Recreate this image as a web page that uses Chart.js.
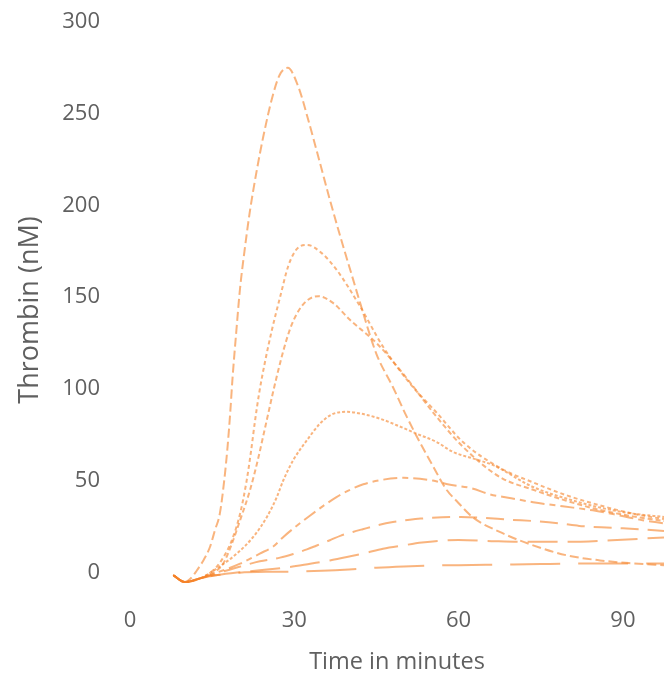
<!DOCTYPE html>
<html>
<head>
<meta charset="utf-8">
<title>Thrombin generation</title>
<script src="https://cdn.jsdelivr.net/npm/chart.js@4.4.1/dist/chart.umd.min.js"></script>
<style>
  html, body { margin: 0; padding: 0; background: #fff; }
  #wrap { width: 664px; height: 676px; }
</style>
</head>
<body>
<div id="wrap"><canvas id="thrombinChart" width="664" height="676"></canvas></div>
<script>
// axis ticks
const xTicks = [0, 30, 60, 90];
const yTicks = [0, 50, 100, 150, 200, 250, 300];

// time (minutes) and thrombin (nM) for each curve
const aTime = [7.9, 10, 11.2, 12.2, 13.4, 14.6, 15.5, 16.4, 17.2, 17.8, 18.3, 18.7, 19.4, 20.1, 20.9, 21.9, 23.2, 24.3, 25.9, 27.3, 28.8, 30.7, 32.7, 34.7, 36.5, 38.6, 40.8, 42, 45, 48, 50.5, 52.9, 55.3, 57.8, 59.6, 62.6, 67.5, 73.6, 79.7, 85.8, 91.8, 97.5];
const aVals = [-1.6, -5.3, -3, 1, 6.5, 13.8, 22.9, 32, 50, 68, 87, 105, 131, 155, 175, 197, 220, 237, 258, 271, 275, 265, 245, 223, 203, 181, 159, 147, 119, 101, 85, 71, 58, 45, 39, 30, 22, 14.7, 9.3, 6.5, 4.9, 3.8];

const bTime = [7.9, 10, 12.8, 15.2, 16.7, 18.6, 20.1, 21.3, 22.1, 22.8, 23.6, 24.6, 25.9, 27.4, 28.9, 30.4, 32.3, 35, 37.7, 42, 46.2, 51.1, 56, 60.8, 67.5, 73.6, 79.7, 85.8, 91.8, 97.5];
const bVals = [-1.6, -5.3, -3.3, 1.1, 6.5, 17.5, 32, 50, 66, 82, 98, 114, 132, 150, 167, 176, 178.5, 174, 165, 145, 123, 103, 87, 71, 57, 49, 42, 36.5, 32, 29];

const cTime = [7.9, 10, 12.8, 15, 17, 18.6, 20.1, 21.9, 23.4, 24.3, 25.2, 26.1, 27.4, 28.6, 29.8, 31.9, 34.4, 37, 40.2, 45, 49.8, 56, 60.8, 67.5, 73.6, 79.7, 85.8, 91.8, 97.5];
const cVals = [-1.6, -5.3, -3.3, -0.5, 4.7, 15.6, 28.4, 44.7, 62, 74, 86, 98, 114, 127, 137, 147, 150.5, 147, 137.5, 125, 108.5, 84.7, 68.4, 52, 45, 39, 34, 30.5, 28];

const dTime = [7.9, 10, 12.8, 15.8, 19.5, 22.5, 25, 26.8, 28, 29.8, 32.3, 34.7, 36.8, 39.6, 42, 45.6, 48.7, 52.3, 56, 59, 62.7, 66.3, 73.6, 79.7, 85.8, 91.8, 97.5];
const dVals = [-1.6, -5.3, -3.3, 2, 10.2, 19.3, 30.2, 41, 50.2, 61.1, 72, 81.1, 86, 87.5, 86.6, 83.8, 80.2, 75.6, 71, 65.6, 62, 58.4, 46.5, 40.2, 35.3, 32, 30.2];

const eTime = [7.9, 10, 12.8, 16, 20.1, 23.7, 26.2, 28, 32.9, 37.7, 40.2, 42.6, 46.2, 50, 55.3, 58, 62.4, 65.7, 69.6, 73.6, 79, 84.5, 89.4, 93.6, 97.5];
const eVals = [-1.6, -5.3, -3.3, 0, 4.7, 10.2, 14.2, 19.3, 31, 41, 45, 48, 50.5, 51.5, 50, 48, 45.8, 42.5, 40.4, 38.2, 36, 33.8, 31, 28.4, 26.7];

const fTime = [7.9, 10, 12.8, 16, 20, 23.7, 27.4, 29.8, 32.3, 34, 36.5, 38.5, 40.7, 42.5, 45.1, 48, 51.1, 53.1, 57, 60.4, 64, 69.3, 74.4, 78.6, 82, 88, 94, 97.5];
const fVals = [-1.6, -5.3, -3.3, -0.5, 3, 6, 8, 10, 12.5, 14.5, 17.5, 20, 22, 23.5, 25.6, 27.4, 28.7, 29.3, 30, 30.2, 29.8, 28.7, 27.8, 26.6, 25.3, 24.3, 23.3, 22.5];

const gTime = [7.9, 10, 12.8, 16, 20, 25, 29.2, 32.9, 36.5, 39.6, 42.6, 46.2, 49.9, 53.3, 57, 60, 66, 72, 80, 88, 97.5];
const gVals = [-1.6, -5.3, -3.3, -1.5, 0, 1.5, 2.9, 4.7, 6.5, 8.4, 10.2, 12.9, 14.7, 16.2, 17.3, 17.6, 17, 16.6, 16.6, 17.5, 19];

const hTime = [7.9, 10, 12.8, 16, 20, 25, 30, 35, 40, 45, 50, 55, 60, 65, 70, 75, 80, 85, 90, 97.5];
const hVals = [-1.6, -5.3, -3.3, -1.5, -0.2, 0.3, 0.4, 0.8, 1.5, 2.5, 3.2, 3.7, 3.9, 4.1, 4.3, 4.5, 4.7, 4.8, 4.8, 4.8];

const lineColor = 'rgba(245, 130, 40, 0.6)';
const textColor = '#606060';
const fontFamily = '"Open Sans", "Noto Sans", sans-serif';

function toPoints(times, vals) {
    return times.map((t, i) => ({ x: t, y: vals[i] }));
}

function curve(times, vals, dash) {
    return {
        data: toPoints(times, vals),
        borderColor: lineColor,
        borderWidth: 2,
        borderDash: dash,
        pointRadius: 0,
        fill: false,
        cubicInterpolationMode: 'monotone'
    };
}

const ctx = document.getElementById('thrombinChart').getContext('2d');
new Chart(ctx, {
    type: 'line',
    data: {
        datasets: [
            curve(hTime, hVals, [50, 18]),
            curve(gTime, gVals, [30, 10]),
            curve(fTime, fVals, [18, 9]),
            curve(eTime, eVals, [14, 5, 6, 5]),
            curve(dTime, dVals, [3, 2]),
            curve(cTime, cVals, [5, 3]),
            curve(bTime, bVals, [4, 3]),
            curve(aTime, aVals, [9, 4])
        ]
    },
    options: {
        responsive: false,
        animation: false,
        devicePixelRatio: 1,
        layout: { padding: { top: 22, right: 0, bottom: 0, left: 0 } },
        plugins: {
            legend: { display: false },
            tooltip: { enabled: false }
        },
        scales: {
            x: {
                type: 'linear',
                min: 0,
                max: 97.5,
                grid: { display: false, drawTicks: false },
                border: { display: false },
                afterBuildTicks: (scale) => { scale.ticks = xTicks.map(v => ({ value: v })); },
                afterFit: (scale) => { scale.height = 78; },
                ticks: {
                    color: textColor,
                    padding: 10,
                    maxRotation: 0,
                    font: { family: fontFamily, size: 22 }
                },
                title: {
                    display: true,
                    text: 'Time in minutes',
                    color: textColor,
                    padding: { top: 0, bottom: 0 },
                    font: { family: fontFamily, size: 23.5 }
                }
            },
            y: {
                type: 'linear',
                min: -14,
                max: 300,
                grid: { display: false, drawTicks: false },
                border: { display: false },
                afterBuildTicks: (scale) => { scale.ticks = yTicks.map(v => ({ value: v })); },
                afterFit: (scale) => {
                    scale.width = 130;
                    // tick padding would otherwise push the plot down
                    scale.paddingTop = 12;
                    scale.paddingBottom = 12;
                },
                ticks: {
                    color: textColor,
                    padding: 30,
                    font: { family: fontFamily, size: 22 }
                },
                title: {
                    display: true,
                    text: 'Thrombin (nM)',
                    color: textColor,
                    padding: { top: 14, bottom: 0 },
                    font: { family: fontFamily, size: 27 }
                }
            }
        }
    }
});
</script>
</body>
</html>
